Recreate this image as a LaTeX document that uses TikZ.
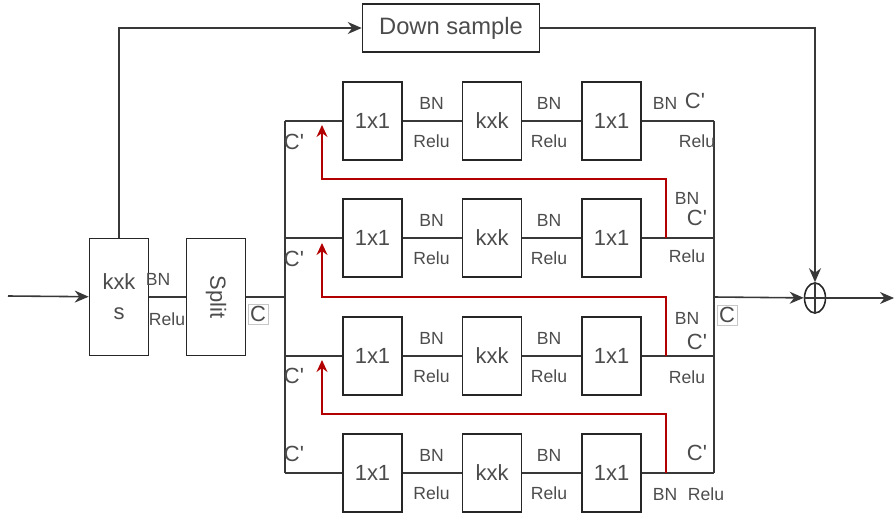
\documentclass[tikz,border=0pt]{standalone}
\usepackage{fontspec}
\setmainfont{Liberation Sans}
\usetikzlibrary{positioning, arrows.meta, calc, shapes.geometric}

\begin{document}
\begin{tikzpicture}[
    x=0.02cm, y=-0.02cm,
    node distance=1.18cm,
    convbox/.style={
        rectangle,
        draw=black!85,
        fill=white,
        line width=0.9pt,
        align=center,
        minimum width=1.18cm,
        minimum height=1.56cm,
        inner sep=0pt,
        text=black!70,
        font=\fontsize{12.5}{14}\selectfont
    },
    tallbox/.style={convbox, minimum height=2.34cm},
    wire/.style={draw=black!78, line width=0.9pt},
    flowarrow/.style={wire, -{Stealth[length=2.8mm, width=2.4mm]}},
    backarrow/.style={draw=red!70!black, line width=0.8pt, -{Stealth[length=2.4mm, width=2.2mm]}},
    lbl/.style={inner sep=0pt, text=black!70, font=\fontsize{10}{11}\selectfont},
    chan/.style={inner sep=0pt, text=black!70, font=\fontsize{12.5}{13}\selectfont},
    chanbox/.style={chan, draw=black!22, inner sep=1.2pt}
]
\useasboundingbox (0,0) rectangle (894,517);

\node[tallbox] (conv) at (119,297) {kxk\\[3pt]s};
\node[tallbox] (split) at (216,297) {\rotatebox{-90}{Split}};
\node[convbox, minimum width=3.54cm, minimum height=0.96cm,
      font=\fontsize{13.5}{15}\selectfont] (down) at (451,28) {Down sample};
\node[ellipse, draw=black!85, line width=0.9pt, minimum width=0.42cm,
      minimum height=0.6cm, inner sep=0pt] (sum) at (815,298) {};
\draw[wire] (sum.north) -- (sum.south);
\draw[wire] (sum.west) -- (sum.east);

\coordinate (in) at (8,296);
\coordinate (out) at (894,298);
\coordinate (lm) at (285,297);
\coordinate (rm) at (714,297);

\draw[flowarrow] (in) -- (conv);
\draw[wire] (conv) -- (split);
\draw[wire] (split) -- (lm);
\draw[flowarrow] (conv.north) |- (down);
\draw[flowarrow] (down) -| (sum);
\draw[flowarrow] (rm) -- (sum);
\draw[flowarrow] (sum) -- (out);

\node[lbl] (bn0) at (158,279) {BN};
\node[lbl] (relu0) at (167,319) {Relu};
\node[chanbox] (csplit) at (258,314) {C};
\node[chanbox] (cmerge) at (727,315) {C};

\foreach \r/\y in {1/121, 2/238, 3/356, 4/473} {
    \node[convbox] (p\r) at (372.5,\y) {1x1};
    \node[convbox, right=of p\r] (k\r) {kxk};
    \node[convbox, right=of k\r] (q\r) {1x1};
    \coordinate (l\r) at (285,\y);
    \coordinate (r\r) at (714,\y);
    \draw[wire] (l\r) -- (p\r);
    \draw[wire] (p\r) -- (k\r);
    \draw[wire] (k\r) -- (q\r);
    \draw[wire] (q\r) -- (r\r);
    \node[lbl] (bna\r) at (431.5,\y-18) {BN};
    \node[lbl] (relua\r) at (431.5,\y+20) {Relu};
    \node[lbl] (bnb\r) at (549,\y-18) {BN};
    \node[lbl] (relub\r) at (549,\y+20) {Relu};
}
\draw[wire] (l1) -- (l4);
\draw[wire] (r1) -- (r4);

% channel labels on the left
\node[chan] (cl1) at (294,142) {C\textquotesingle};
\node[chan] (cl2) at (294,259) {C\textquotesingle};
\node[chan] (cl3) at (294,376) {C\textquotesingle};
\node[chan] (cl4) at (294,454) {C\textquotesingle};

% labels on the right
\node[lbl] (bnc1) at (665,103) {BN};
\node[chan] (cr1) at (695,101) {C\textquotesingle};
\node[lbl] (reluc1) at (697,141) {Relu};
\node[lbl] (bnc2) at (687,198) {BN};
\node[chan] (cr2) at (697,218) {C\textquotesingle};
\node[lbl] (reluc2) at (687,256) {Relu};
\node[lbl] (bnc3) at (687,318) {BN};
\node[chan] (cr3) at (697,342) {C\textquotesingle};
\node[lbl] (reluc3) at (687,377) {Relu};
\node[chan] (cr4) at (697,453) {C\textquotesingle};
\node[lbl] (bnc4) at (665,494) {BN};
\node[lbl] (reluc4) at (706,494) {Relu};

\foreach \r/\p/\y in {2/1/238, 3/2/356, 4/3/473} {
    \coordinate (t\r) at (666,\y);
    \coordinate (h\p) at (322,\y-113);
    \draw[backarrow] (t\r) -- ++(0,-59) -| (h\p);
}

\end{tikzpicture}
\end{document}
